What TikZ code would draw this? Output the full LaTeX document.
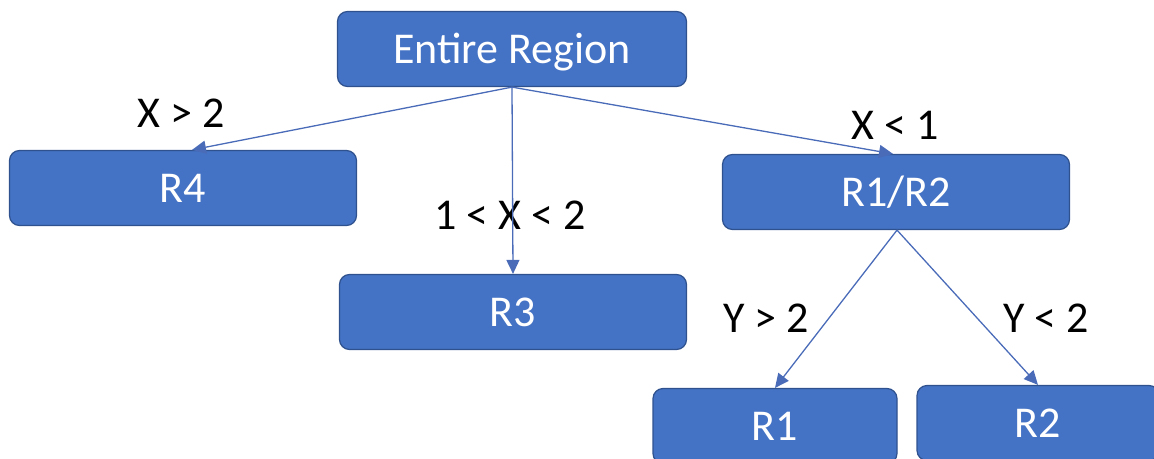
\documentclass[tikz,border=0pt]{standalone}
\usepackage{fontspec}
\setmainfont{Carlito}
\usetikzlibrary{arrows.meta}
\definecolor{boxblue}{HTML}{4472C4}
\definecolor{boxedge}{HTML}{2F528F}
\definecolor{arrowblue}{HTML}{4A6CB8}
\tikzset{
  region/.style={draw=boxedge,fill=boxblue,line width=1.2pt,rounded corners=10pt,
    minimum height=75pt,text=white,font=\fontsize{44}{50}\selectfont,
    text height=28pt,text depth=0pt,inner sep=0pt},
  cond/.style={font=\fontsize{44}{50}\selectfont,text height=28pt,text depth=0pt,inner sep=0pt},
  split/.style={draw=arrowblue,line width=1.3pt,-{Triangle[length=14pt,width=13pt]}}
}
\begin{document}
\begin{tikzpicture}[x=1pt,y=-1pt] % pixel coordinates
  \useasboundingbox (0,0) rectangle (1154,458);
  \clip (0,0) rectangle (1154,458);
  \node[region,minimum width=349pt](root) at (512,49) {Entire Region};
  \node[region,minimum width=347pt](r4) at (183,188) {R4};
  \node[region,minimum width=347pt](r3) at (513,312) {R3};
  \node[region,minimum width=347pt](r12) at (896,192) {R1/R2};
  \node[region,minimum width=244pt](r1) at (775,426) {R1};
  \node[region,minimum width=242pt](r2) at (1038,423) {R2};
  % split labels
  \node[cond](c4) at (181,113) {X > 2};
  \node[cond](c3) at (510,215) {1 < X < 2};
  \node[cond](c12) at (895,125) {X < 1};
  \node[cond](c1) at (766,318) {Y > 2};
  \node[cond](c2) at (1046,318) {Y < 2};
  % edges
  \draw[split] (root.south) -- ([xshift=9pt]r4.north);
  \draw[split] (root.south) -- (r3.north);
  \draw[split] (root.south) -- ([xshift=-3pt]r12.north);
  \draw[split] ([xshift=1pt]r12.south) -- (r1.north);
  \draw[split] ([xshift=1pt]r12.south) -- (r2.north);
\end{tikzpicture}
\end{document}
